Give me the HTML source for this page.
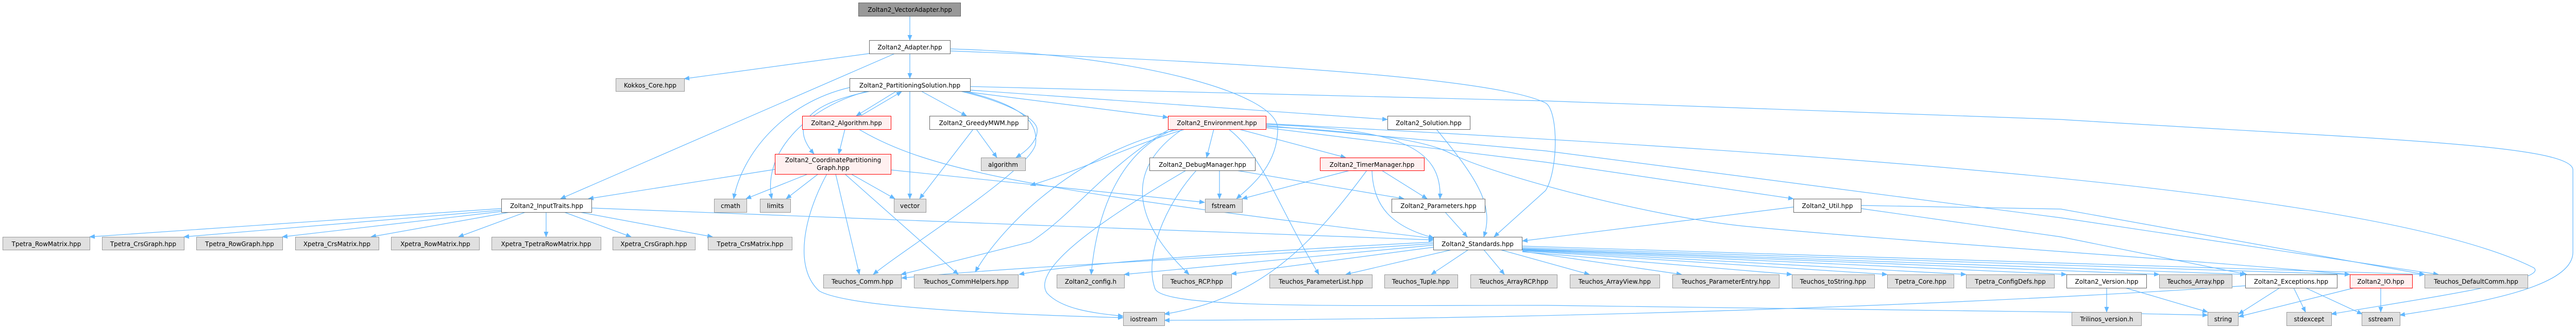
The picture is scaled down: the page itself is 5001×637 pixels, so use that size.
<!DOCTYPE html>
<html><head><meta charset="utf-8"><style>
html,body{margin:0;padding:0;background:#fff;}
svg{display:block;}
text{font-family:"DejaVu Sans","Liberation Sans",sans-serif;font-size:12px;fill:#000;text-anchor:middle;}
.e{fill:none;stroke:#63b8ff;stroke-width:1.2;marker-end:url(#a);}
.g{fill:#e0e0e0;stroke:#999;stroke-width:1;}
.w{fill:#fff;stroke:#666;stroke-width:1;}
.r{fill:#fff0f0;stroke:#f00;stroke-width:1;}
.root{fill:#999;stroke:#666;stroke-width:1;}
</style></head><body>
<svg width="5001" height="637" viewBox="0 0 5001 637" xmlns="http://www.w3.org/2000/svg">
<defs><marker id="a" markerUnits="userSpaceOnUse" markerWidth="11" markerHeight="9" refX="10" refY="4.5" orient="auto"><path d="M0,0 L11,4.5 L0,9 z" fill="#63b8ff"/></marker></defs>

<!-- edges -->
<path class="e" d="M1766,31 L1766,78"/>
<path class="e" d="M1687,104 L1328,153"/>
<path class="e" d="M1737,104 L1088,386"/>
<path class="e" d="M1766,104 L1766,152"/>
<path class="e" d="M1845,95 C2200,105 2480,180 2480,250 C2480,320 2430,360 2400,386"/>
<path class="e" d="M1845,99 C2400,120 2900,150 3000,200 C3025,215 3025,330 3000,370 L2900,460"/>
<path class="e" d="M1883,168 L3000,196 L4000,232 C4600,270 4994,280 4994,330 L4994,490 C4994,560 4800,590 4658,612"/>
<path class="e" d="M1883,175 L2693,232"/>
<path class="e" d="M1866,177 L2267,228"/>
<path class="e" d="M1740,177 L1662,225"/>
<path class="e" d="M1672,224 L1750,178"/>
<path class="e" d="M1690,177 C1600,195 1520,230 1580,299"/>
<path class="e" d="M1649,170 C1520,200 1440,300 1424,386"/>
<path class="e" d="M1684,177 C1560,210 1480,300 1498,386"/>
<path class="e" d="M1766,177 L1766,386"/>
<path class="e" d="M1788,177 L1876,225"/>
<path class="e" d="M1864,177 C1960,200 2010,230 2013,250 C2015,275 1990,295 1972,306"/>
<path class="e" d="M1870,177 C1990,205 2015,240 2010,280 C2000,330 1760,480 1695,533"/>
<path class="e" d="M1640,251 L1628,299"/>
<path class="e" d="M1667,251 C1800,330 2000,370 2783,463"/>
<path class="e" d="M1895,251 L1935,306"/>
<path class="e" d="M1889,251 L1785,386"/>
<path class="e" d="M1504,329 L1142,386"/>
<path class="e" d="M1568,338 L1448,386"/>
<path class="e" d="M1588,338 L1526,386"/>
<path class="e" d="M1652,338 L1737,386"/>
<path class="e" d="M1622,338 L1668,533"/>
<path class="e" d="M1640,338 L1860,533"/>
<path class="e" d="M1605,338 C1560,420 1540,520 1590,565 C1650,600 2000,612 2180,617"/>
<path class="e" d="M1729,330 L2338,393"/>
<path class="e" d="M1148,404 L2000,437 L2783,466"/>
<path class="e" d="M973,405 L174,460"/>
<path class="e" d="M975,408 L357,460"/>
<path class="e" d="M980,410 L548,460"/>
<path class="e" d="M990,412 L720,460"/>
<path class="e" d="M1020,412 L890,460"/>
<path class="e" d="M1060,412 L1060,460"/>
<path class="e" d="M1095,412 L1225,460"/>
<path class="e" d="M1125,412 L1383,460"/>
<path class="e" d="M2356,251 L2342,306"/>
<path class="e" d="M2405,251 L2612,306"/>
<path class="e" d="M2457,242 C2700,250 2800,280 2795,386"/>
<path class="e" d="M2457,244 L3000,293 L4000,423 L4733,533"/>
<path class="e" d="M2457,248 L3000,315 L3481,386"/>
<path class="e" d="M2457,246 C2750,260 2800,290 2820,300 C2900,340 3200,420 3383,439 C3700,470 4200,500 4561,533"/>
<path class="e" d="M2457,240 C3400,290 4600,360 4918,520 C4950,545 4700,580 4525,610"/>
<path class="e" d="M2300,251 C2200,280 2100,330 2000,360"/>
<path class="e" d="M2290,251 C2100,290 1950,430 1893,528"/>
<path class="e" d="M2280,251 C2180,290 2130,400 2118,533"/>
<path class="e" d="M2295,251 C2180,330 2200,430 2308,533"/>
<path class="e" d="M2385,251 C2450,300 2480,400 2560,533"/>
<path class="e" d="M2270,251 C2150,320 2080,420 2000,470 L1749,533"/>
<path class="e" d="M2367,331 L2367,386"/>
<path class="e" d="M2400,331 L2725,386"/>
<path class="e" d="M2322,331 C2260,400 2220,500 2242,561 C2260,600 2600,593 3000,593 L4000,606 L4285,612"/>
<path class="e" d="M2302,331 C2150,420 2000,520 2032,569 C2060,600 2120,608 2180,614"/>
<path class="e" d="M2620,331 L2411,386"/>
<path class="e" d="M2682,331 L2770,386"/>
<path class="e" d="M2663,331 C2665,400 2700,440 2783,462"/>
<path class="e" d="M2653,331 C2550,470 2450,580 2260,610"/>
<path class="e" d="M2805,412 L2848,460"/>
<path class="e" d="M2788,251 C2870,350 2900,400 2880,460"/>
<path class="e" d="M3481,402 L2955,468"/>
<path class="e" d="M3612,399 L4000,406 L4706,533"/>
<path class="e" d="M3612,405 L4000,460 L4361,533"/>
<!-- Standards fan-out -->
<path class="e" d="M2783,476 L2182,533"/>
<path class="e" d="M2783,480 L2390,532"/>
<path class="e" d="M2818,485 L2612,533"/>
<path class="e" d="M2850,485 L2778,533"/>
<path class="e" d="M2880,485 L2920,533"/>
<path class="e" d="M2912,485 L3085,533"/>
<path class="e" d="M2955,488 L3264,533"/>
<path class="e" d="M2955,489 L3478,533"/>
<path class="e" d="M2955,487 L3663,533"/>
<path class="e" d="M2955,486 L3816,533"/>
<path class="e" d="M2955,485 L4011,533"/>
<path class="e" d="M2955,484 L4191,533"/>
<path class="e" d="M2955,483 L4358,533"/>
<path class="e" d="M2955,481 L4561,533"/>
<path class="e" d="M2955,478 L4706,533"/>
<path class="e" d="M2783,470 C2400,490 2100,510 1978,533"/>
<path class="e" d="M2783,473 C2400,500 2000,515 1750,540"/>
<!-- bottom -->
<path class="e" d="M4089,559 L4089,606"/>
<path class="e" d="M4125,559 L4285,606"/>
<path class="e" d="M4358,555 C4000,580 3200,620 2260,622"/>
<path class="e" d="M4425,559 L4345,610"/>
<path class="e" d="M4452,559 L4475,606"/>
<path class="e" d="M4475,559 L4585,610"/>
<path class="e" d="M4570,559 L4345,615"/>
<path class="e" d="M4621,559 L4621,606"/>

<!-- nodes -->
<rect class="root" x="1666.5" y="5.5" width="198" height="26"/><text x="1766" y="23">Zoltan2_VectorAdapter.hpp</text>
<rect class="w" x="1687.5" y="78.5" width="157" height="26"/><text x="1766" y="96">Zoltan2_Adapter.hpp</text>
<rect class="g" x="1195.5" y="152.5" width="133" height="25"/><text x="1262" y="170">Kokkos_Core.hpp</text>
<rect class="w" x="1649.5" y="152.5" width="234" height="25"/><text x="1766" y="170">Zoltan2_PartitioningSolution.hpp</text>
<rect class="r" x="1557.5" y="225.5" width="172" height="26"/><text x="1643" y="243">Zoltan2_Algorithm.hpp</text>
<rect class="w" x="1804.5" y="225.5" width="191" height="26"/><text x="1900" y="243">Zoltan2_GreedyMWM.hpp</text>
<rect class="r" x="2267.5" y="225.5" width="190" height="26"/><text x="2362" y="243">Zoltan2_Environment.hpp</text>
<rect class="w" x="2693.5" y="225.5" width="160" height="26"/><text x="2773" y="243">Zoltan2_Solution.hpp</text>
<rect class="g" x="1904.5" y="306.5" width="86" height="25"/><text x="1947" y="324">algorithm</text>
<rect class="r" x="1504.5" y="299.5" width="225" height="39"/><text x="1617" y="315">Zoltan2_CoordinatePartitioning</text><text x="1617" y="330">Graph.hpp</text>
<rect class="w" x="2231.5" y="306.5" width="205" height="25"/><text x="2334" y="324">Zoltan2_DebugManager.hpp</text>
<rect class="r" x="2562.5" y="306.5" width="202" height="25"/><text x="2663" y="324">Zoltan2_TimerManager.hpp</text>
<rect class="w" x="973.5" y="386.5" width="175" height="26"/><text x="1061" y="404">Zoltan2_InputTraits.hpp</text>
<rect class="g" x="1386.5" y="386.5" width="63" height="26"/><text x="1418" y="404">cmath</text>
<rect class="g" x="1475.5" y="386.5" width="59" height="26"/><text x="1505" y="404">limits</text>
<rect class="g" x="1735.5" y="386.5" width="62" height="26"/><text x="1766" y="404">vector</text>
<rect class="g" x="2339.5" y="386.5" width="72" height="26"/><text x="2375" y="404">fstream</text>
<rect class="w" x="2701.5" y="386.5" width="181" height="26"/><text x="2792" y="404">Zoltan2_Parameters.hpp</text>
<rect class="w" x="3481.5" y="386.5" width="131" height="26"/><text x="3547" y="404">Zoltan2_Util.hpp</text>
<rect class="g" x="5.5" y="460.5" width="169" height="25"/><text x="90" y="478">Tpetra_RowMatrix.hpp</text>
<rect class="g" x="198.5" y="460.5" width="159" height="25"/><text x="278" y="478">Tpetra_CrsGraph.hpp</text>
<rect class="g" x="381.5" y="460.5" width="167" height="25"/><text x="465" y="478">Tpetra_RowGraph.hpp</text>
<rect class="g" x="573.5" y="460.5" width="162" height="25"/><text x="654" y="478">Xpetra_CrsMatrix.hpp</text>
<rect class="g" x="759.5" y="460.5" width="171" height="25"/><text x="845" y="478">Xpetra_RowMatrix.hpp</text>
<rect class="g" x="954.5" y="460.5" width="212" height="25"/><text x="1060" y="478">Xpetra_TpetraRowMatrix.hpp</text>
<rect class="g" x="1189.5" y="460.5" width="160" height="25"/><text x="1269" y="478">Xpetra_CrsGraph.hpp</text>
<rect class="g" x="1374.5" y="460.5" width="163" height="25"/><text x="1456" y="478">Tpetra_CrsMatrix.hpp</text>
<rect class="w" x="2782.5" y="460.5" width="172" height="25"/><text x="2868" y="478">Zoltan2_Standards.hpp</text>
<rect class="g" x="1598.5" y="533.5" width="151" height="26"/><text x="1674" y="551">Teuchos_Comm.hpp</text>
<rect class="g" x="1774.5" y="533.5" width="202" height="26"/><text x="1875" y="551">Teuchos_CommHelpers.hpp</text>
<rect class="g" x="2051.5" y="533.5" width="131" height="26"/><text x="2117" y="551">Zoltan2_config.h</text>
<rect class="g" x="2256.5" y="533.5" width="134" height="26"/><text x="2323" y="551">Teuchos_RCP.hpp</text>
<rect class="g" x="2464.5" y="533.5" width="199" height="26"/><text x="2564" y="551">Teuchos_ParameterList.hpp</text>
<rect class="g" x="2687.5" y="533.5" width="142" height="26"/><text x="2758" y="551">Teuchos_Tuple.hpp</text>
<rect class="g" x="2854.5" y="533.5" width="168" height="26"/><text x="2938" y="551">Teuchos_ArrayRCP.hpp</text>
<rect class="g" x="3047.5" y="533.5" width="174" height="26"/><text x="3134" y="551">Teuchos_ArrayView.hpp</text>
<rect class="g" x="3246.5" y="533.5" width="207" height="26"/><text x="3350" y="551">Teuchos_ParameterEntry.hpp</text>
<rect class="g" x="3478.5" y="533.5" width="160" height="26"/><text x="3558" y="551">Teuchos_toString.hpp</text>
<rect class="g" x="3663.5" y="533.5" width="129" height="26"/><text x="3728" y="551">Tpetra_Core.hpp</text>
<rect class="g" x="3816.5" y="533.5" width="171" height="26"/><text x="3902" y="551">Tpetra_ConfigDefs.hpp</text>
<rect class="w" x="4011.5" y="533.5" width="155" height="26"/><text x="4089" y="551">Zoltan2_Version.hpp</text>
<rect class="g" x="4191.5" y="533.5" width="141" height="26"/><text x="4262" y="551">Teuchos_Array.hpp</text>
<rect class="w" x="4358.5" y="533.5" width="178" height="26"/><text x="4447" y="551">Zoltan2_Exceptions.hpp</text>
<rect class="r" x="4561.5" y="533.5" width="121" height="26"/><text x="4621" y="551">Zoltan2_IO.hpp</text>
<rect class="g" x="4706.5" y="533.5" width="200" height="26"/><text x="4806" y="551">Teuchos_DefaultComm.hpp</text>
<rect class="g" x="2180.5" y="606.5" width="80" height="26"/><text x="2220" y="624">iostream</text>
<rect class="g" x="4021.5" y="606.5" width="135" height="26"/><text x="4089" y="624">Trilinos_version.h</text>
<rect class="g" x="4285.5" y="606.5" width="59" height="26"/><text x="4315" y="624">string</text>
<rect class="g" x="4438.5" y="606.5" width="87" height="26"/><text x="4482" y="624">stdexcept</text>
<rect class="g" x="4584.5" y="606.5" width="74" height="26"/><text x="4621" y="624">sstream</text>
</svg>
</body></html>
